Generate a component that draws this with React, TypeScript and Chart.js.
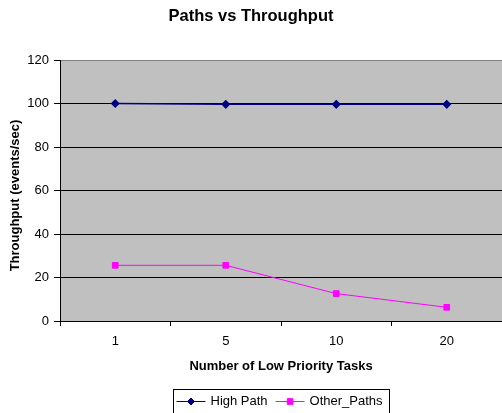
import React, { useEffect, useRef } from "react";
import { Chart, registerables } from "chart.js";

Chart.register(...registerables);

const categories = ["1", "5", "10", "20"];
const highPath = [100, 99.6, 99.6, 99.6];
const otherPaths = [25.6, 25.6, 12.6, 6.3];
const seriesLabels = ["High Path", "Other_Paths"];
const chartTitle = "Paths vs Throughput";
const xTitle = "Number of Low Priority Tasks";
const yTitle = "Throughput (events/sec)";
const yMin = 0;
const yMax = 120;
const yStep = 20;

const FONT = '"Liberation Sans", Arial, Helvetica, sans-serif';

function drawMarker(ctx: CanvasRenderingContext2D, style: string, x: number, y: number, r: number, color: string) {
  ctx.save();
  ctx.fillStyle = color;
  ctx.strokeStyle = color;
  ctx.lineWidth = 1;
  ctx.beginPath();
  if (style === "rectRot") {
    ctx.moveTo(x, y - r);
    ctx.lineTo(x + r, y);
    ctx.lineTo(x, y + r);
    ctx.lineTo(x - r, y);
    ctx.closePath();
  } else {
    const s = r * Math.SQRT1_2;
    ctx.rect(x - s, y - s, 2 * s, 2 * s);
  }
  ctx.fill();
  ctx.stroke();
  ctx.restore();
}

const bgPlugin = {
  id: "plotBg",
  beforeDraw(chart: any) {
    const { ctx, chartArea } = chart;
    ctx.save();
    ctx.fillStyle = "#C0C0C0";
    ctx.fillRect(chartArea.left, chartArea.top, chartArea.right - chartArea.left, chartArea.bottom - chartArea.top);
    ctx.restore();
  },
};

const yTitlePlugin = {
  id: "yTitleText",
  afterDraw(chart: any) {
    const { ctx } = chart;
    ctx.save();
    ctx.font = "bold 13px " + FONT;
    ctx.fillStyle = "#000";
    ctx.textAlign = "center";
    ctx.textBaseline = "middle";
    ctx.translate(15, 195.5);
    ctx.rotate(-Math.PI / 2);
    ctx.fillText(yTitle, 0, 0);
    ctx.restore();
  },
};

const legendPlugin = {
  id: "excelLegend",
  afterDraw(chart: any) {
    const { ctx, chartArea } = chart;
    ctx.save();
    ctx.font = "13px " + FONT;
    ctx.textBaseline = "middle";
    ctx.textAlign = "left";
    const lineLen = 29;
    const markGap = 5;
    const itemGap = 8;
    const padL = 3;
    const padR = 7;
    const items = chart.data.datasets.map((ds: any) => ({
      ds,
      w: lineLen + markGap + ctx.measureText(ds.label).width,
    }));
    const total = padL + items.reduce((s: number, i: any) => s + i.w, 0) + itemGap * (items.length - 1) + padR;
    const left = Math.round((chartArea.left + chartArea.right) / 2 - total / 2) + 0.5;
    const top = 389.5;
    ctx.strokeStyle = "#000";
    ctx.lineWidth = 1;
    ctx.strokeRect(left, top, Math.round(total), 40);
    let x = left + padL;
    const y = 401.5;
    items.forEach(({ ds, w }: any) => {
      ctx.strokeStyle = ds.borderColor;
      ctx.lineWidth = 1;
      ctx.beginPath();
      ctx.moveTo(x, y);
      ctx.lineTo(x + lineLen, y);
      ctx.stroke();
      drawMarker(ctx, ds.pointStyle, x + lineLen / 2, y, ds.pointRadius, ds.pointBackgroundColor);
      ctx.fillStyle = "#000";
      ctx.fillText(ds.label, x + lineLen + markGap, y - 0.5);
      x += w + itemGap;
    });
    ctx.restore();
  },
};

export default function App() {
  const canvasRef = useRef<HTMLCanvasElement | null>(null);

  useEffect(() => {
    if (!canvasRef.current) return;
    Chart.defaults.font.family = FONT;
    Chart.defaults.color = "#000";
    const chart = new Chart(canvasRef.current, {
      type: "line",
      data: {
        labels: categories,
        datasets: [
          {
            label: seriesLabels[0],
            data: highPath,
            borderColor: "#000080",
            backgroundColor: "#000080",
            pointBackgroundColor: "#000080",
            pointBorderColor: "#000080",
            pointStyle: "rectRot",
            pointRadius: 3.5,
            borderWidth: 1.5,
            tension: 0,
          },
          {
            label: seriesLabels[1],
            data: otherPaths,
            borderColor: "#FF00FF",
            backgroundColor: "#FF00FF",
            pointBackgroundColor: "#FF00FF",
            pointBorderColor: "#FF00FF",
            pointStyle: "rect",
            pointRadius: 4,
            borderWidth: 1,
            tension: 0,
          },
        ],
      },
      options: {
        responsive: false,
        animation: false,
        layout: { padding: 0, autoPadding: false },
        plugins: {
          legend: { display: false },
          tooltip: { enabled: false },
          title: {
            display: true,
            text: chartTitle,
            color: "#000",
            font: { size: 16.5, weight: "bold", family: FONT },
            padding: { top: 6.5, bottom: 33.7 },
          },
        },
        scales: {
          x: {
            type: "category",
            offset: true,
            grid: {
              offset: true,
              drawOnChartArea: false,
              drawTicks: true,
              tickLength: 5,
              tickColor: "#000",
            },
            border: { display: true, color: "#000", width: 1 },
            ticks: { color: "#000", font: { size: 13, family: FONT }, padding: 8, maxRotation: 0 },
            title: {
              display: true,
              text: xTitle,
              color: "#000",
              font: { size: 13, weight: "bold", family: FONT },
              padding: { top: 0, bottom: 38.5 },
            },
            afterFit: (s: any) => {
              s.height = 92;
              s.paddingLeft = 0;
              s.paddingRight = 0;
            },
          },
          y: {
            min: yMin,
            max: yMax,
            ticks: { stepSize: yStep, color: "#000", font: { size: 13, family: FONT }, padding: 5 },
            grid: {
              color: (c: any) => (c.tick && c.tick.value === yMax ? "#808080" : "#000"),
              lineWidth: 1,
              drawTicks: true,
              tickLength: 6,
              tickColor: "#000",
            },
            border: { display: true, color: "#000", width: 1 },
            title: { display: false, text: yTitle },
            afterFit: (s: any) => {
              s.width = 60;
            },
          },
        },
      },
      plugins: [bgPlugin, yTitlePlugin, legendPlugin],
    } as any);
    return () => chart.destroy();
  }, []);

  return (
    <div style={{ position: "absolute", left: 0, top: 0, width: 502, height: 413, background: "#fff" }}>
      <canvas ref={canvasRef} width={502} height={413} style={{ display: "block" }} />
    </div>
  );
}
